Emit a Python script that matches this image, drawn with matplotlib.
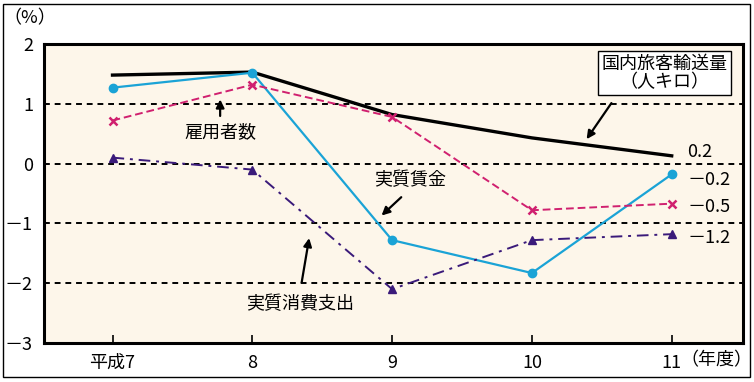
import matplotlib
matplotlib.use("Agg")
import matplotlib.pyplot as plt
from matplotlib.patches import Rectangle

plt.rcParams['font.family'] = ['Noto Sans CJK JP', 'DejaVu Sans']

years = [7, 8, 9, 10, 11]
xlabels = ['平成7', '8', '9', '10', '11']
passenger = [1.48, 1.53, 0.82, 0.43, 0.13]
wage = [1.27, 1.52, -1.28, -1.83, -0.18]
employees = [0.72, 1.32, 0.78, -0.78, -0.67]
consumption = [0.10, -0.10, -2.10, -1.28, -1.18]
end_labels = ['0.2', '－0.2', '－0.5', '－1.2']
end_label_y = [0.2, -0.27, -0.72, -1.25]
yticks = [2, 1, 0, -1, -2, -3]
yticklabels = ['2', '1', '0', '－1', '－2', '－3']

fs = 13
fig = plt.figure(figsize=(7.54, 3.82), dpi=100)
fig.patches.append(Rectangle((3/754, 5/382), 747/754, 373/382, transform=fig.transFigure,
                             fill=False, edgecolor='black', linewidth=1.0))
ax = fig.add_axes([44/754, 1-343/382, 699/754, 299/382])
ax.set_facecolor('#FDF6EA')
ax.set_xlim(6.51, 11.51)
ax.set_ylim(-3, 2)

for yv in [1, 0, -1, -2]:
    ax.axhline(yv, color='black', linewidth=1.4, linestyle=(0, (3, 2.5)), zorder=1)

ax.plot(years, passenger, color='black', linewidth=2.4, zorder=3)
ax.plot(years, wage, color='#1AA3D6', linewidth=1.6, marker='o', markersize=6, zorder=4)
ax.plot(years, employees, color='#D0206F', linewidth=1.4, linestyle=(0, (4, 2)),
        marker='x', markersize=6, markeredgewidth=1.8, zorder=4)
ax.plot(years, consumption, color='#3A1A7A', linewidth=1.4, linestyle=(0, (6, 3, 1.5, 3)),
        marker='^', markersize=6, zorder=4)

for lab, yv in zip(end_labels, end_label_y):
    ax.text(11.11, yv, lab, fontsize=fs, va='center', ha='left')

ax.set_yticks(yticks)
ax.set_yticklabels(yticklabels, fontsize=fs)
ax.set_xticks(years)
ax.set_xticklabels(xlabels, fontsize=fs)
ax.tick_params(axis='x', direction='in', length=6, width=1.2, pad=8)
ax.tick_params(axis='y', length=0, pad=8)
for s in ax.spines.values():
    s.set_linewidth(2.2)

fig.text(30/754, 1-18/382, '（%）', fontsize=fs, ha='center', va='center')
fig.text(716/754, 1-360/382, '（年度）', fontsize=fs, ha='center', va='center')

arrow = dict(arrowstyle='-|>', color='black', lw=1.6, mutation_scale=12)
ax.text(10.95, 1.52, '国内旅客輸送量\n（人キロ）', fontsize=fs, ha='center', va='center',
        linespacing=1.05, bbox=dict(boxstyle='square,pad=0.2', facecolor='white', edgecolor='black', lw=1.0), zorder=6)
ax.annotate('', xy=(10.38, 0.37), xytext=(10.58, 1.05), arrowprops=arrow, zorder=5)

ax.text(7.77, 0.53, '雇用者数', fontsize=fs, ha='center', va='center')
ax.annotate('', xy=(7.77, 1.12), xytext=(7.77, 0.75), arrowprops=arrow)

ax.text(9.13, -0.27, '実質賃金', fontsize=fs, ha='center', va='center')
ax.annotate('', xy=(8.91, -0.9), xytext=(9.08, -0.53), arrowprops=arrow)

ax.text(8.34, -2.35, '実質消費支出', fontsize=fs, ha='center', va='center')
ax.annotate('', xy=(8.41, -1.2), xytext=(8.35, -2.03), arrowprops=arrow)

fig.savefig('out.png', dpi=100)
